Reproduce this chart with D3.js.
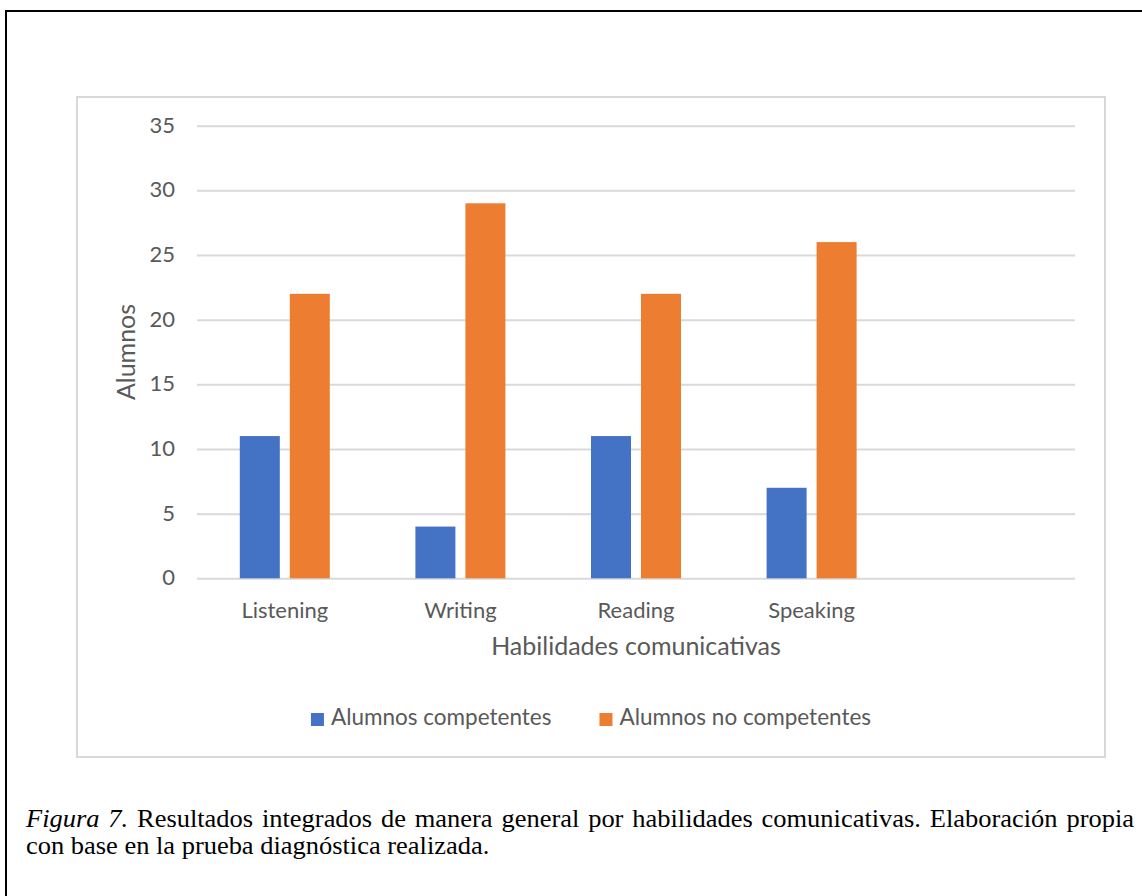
<!DOCTYPE html>
<html>
<head>
<meta charset="utf-8">
<script src="https://cdn.jsdelivr.net/npm/d3@7"></script>
<style>
  html, body { margin: 0; padding: 0; background: #fff; }
  svg { display: block; }
</style>
</head>
<body>
<script>
// ---- data ----
const categories = ["Listening", "Writing", "Reading", "Speaking", ""];
const seriesNames = ["Alumnos competentes", "Alumnos no competentes"];
const competentes = [11, 4, 11, 7];
const noCompetentes = [22, 29, 22, 26];
const yTicks = [0, 5, 10, 15, 20, 25, 30, 35];
const xTitle = "Habilidades comunicativas";
const yTitle = "Alumnos";
const captionLine1 = [
  { t: "Figura", i: true }, { t: "7.", i: true }, { t: "Resultados" }, { t: "integrados" },
  { t: "de" }, { t: "manera" }, { t: "general" }, { t: "por" }, { t: "habilidades" },
  { t: "comunicativas." }, { t: "Elaboración" }, { t: "propia" }
];
const captionLine2 = "con base en la prueba diagnóstica realizada.";

// ---- layout ----
const W = 1142, H = 896;
const colors = ["#4472C4", "#ED7D31"];
const textColor = "#595959";
const gridColor = "#d9d9d9";
const plot = { left: 197, right: 1075, top: 125.7, bottom: 578.3 };

const svg = d3.select("body").append("svg").attr("width", W).attr("height", H);
svg.append("rect").attr("width", W).attr("height", H).attr("fill", "#fff");

// outer document frame (top and left visible)
svg.append("path").attr("d", "M6,896V11H1142")
  .attr("fill", "none").attr("stroke", "#000").attr("stroke-width", 2);

// chart area border
svg.append("rect").attr("x", 77).attr("y", 97).attr("width", 1028).attr("height", 660)
  .attr("fill", "#fff").attr("stroke", gridColor).attr("stroke-width", 2);

// scales
const x0 = d3.scaleBand().domain(categories).range([plot.left, plot.right]).padding(0);
const groupW = 90;
const x1 = d3.scaleBand().domain(seriesNames)
  .range([(x0.bandwidth() - groupW) / 2, (x0.bandwidth() + groupW) / 2])
  .paddingInner(0.2);
const y = d3.scaleLinear().domain([0, 35]).range([plot.bottom, plot.top]);

// y axis + gridlines
const gy = svg.append("g")
  .attr("transform", `translate(${plot.left},0)`)
  .call(d3.axisLeft(y).tickValues(yTicks).tickSize(-(plot.right - plot.left)).tickPadding(22));
gy.attr("font-family", "Lato").attr("font-size", 22);
gy.select(".domain").remove();
gy.selectAll(".tick line").attr("stroke", gridColor).attr("stroke-width", 2);
gy.selectAll(".tick text").attr("fill", textColor).attr("dy", "0.3em");

// bars
const seriesValues = [competentes, noCompetentes];
seriesNames.forEach((s, si) => {
  svg.append("g").selectAll("rect")
    .data(seriesValues[si])
    .join("rect")
    .attr("x", (d, i) => x0(categories[i]) + x1(s))
    .attr("y", d => y(d))
    .attr("width", x1.bandwidth())
    .attr("height", d => y(0) - y(d))
    .attr("fill", colors[si]);
});

// x axis labels
const gx = svg.append("g")
  .attr("transform", `translate(0,${plot.bottom})`)
  .call(d3.axisBottom(x0).tickSize(0).tickPadding(0));
gx.attr("font-family", "Lato").attr("font-size", 22);
gx.select(".domain").remove();
gx.selectAll(".tick text").attr("fill", textColor).attr("y", 40).attr("dy", 0);

// axis titles
svg.append("text")
  .attr("x", (plot.left + plot.right) / 2).attr("y", 655)
  .attr("text-anchor", "middle")
  .attr("font-family", "Lato").attr("font-size", 25).attr("fill", textColor)
  .text(xTitle);
svg.append("text")
  .attr("transform", `translate(135,${(plot.top + plot.bottom) / 2}) rotate(-90)`)
  .attr("text-anchor", "middle")
  .attr("font-family", "Lato").attr("font-size", 25).attr("fill", textColor)
  .text(yTitle);

// legend
const legend = svg.append("g").attr("font-family", "Lato").attr("font-size", 22.5);
const sq = 13, sqGap = 7, itemGap = 48;
const items = seriesNames.map((s, i) => {
  const g = legend.append("g");
  g.append("rect").attr("width", sq).attr("height", sq).attr("y", 713).attr("fill", colors[i]);
  const t = g.append("text").attr("x", sq + sqGap).attr("y", 725).attr("fill", textColor).text(s);
  return { g, w: sq + sqGap + t.node().getComputedTextLength() };
});
const total = d3.sum(items, d => d.w) + itemGap * (items.length - 1);
let lx = 591 - total / 2;
items.forEach(it => { it.g.attr("transform", `translate(${lx},0)`); lx += it.w + itemGap; });

// caption
const capScale = 1.08;
const capFont = 24.5;
const capLeft = 26, capRight = 1134;
const cap = svg.append("g")
  .attr("transform", `translate(${capLeft},0) scale(${capScale},1)`)
  .attr("font-family", "Liberation Serif, Times New Roman, serif")
  .attr("font-size", capFont).attr("fill", "#000");
const words = captionLine1.map(w => {
  const t = cap.append("text").attr("y", 827).attr("font-style", w.i ? "italic" : "normal").text(w.t);
  return { t, w: t.node().getComputedTextLength() };
});
const avail = (capRight - capLeft) / capScale;
const gap = (avail - d3.sum(words, d => d.w)) / (words.length - 1);
let cx = 0;
words.forEach(w => { w.t.attr("x", cx); cx += w.w + gap; });
cap.append("text").attr("x", 0).attr("y", 854).text(captionLine2);
</script>
</body>
</html>
